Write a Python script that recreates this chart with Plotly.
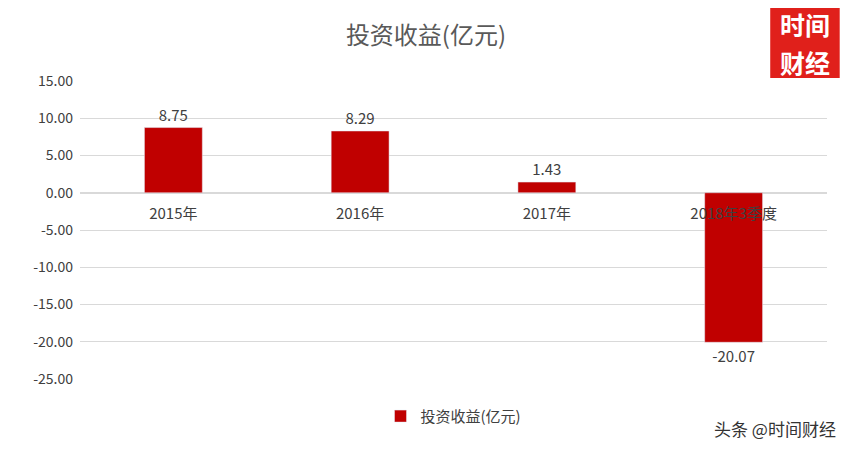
import plotly.graph_objects as go

categories = ['2015年', '2016年', '2017年', '2018年3季度']
values = [8.75, 8.29, 1.43, -20.07]
ytick_vals = [15, 10, 5, 0, -5, -10, -15, -20, -25]
ytick_text = ['%.2f' % v for v in ytick_vals]

red = '#C00000'
font = 'Noto Sans CJK SC'

fig = go.Figure()
fig.add_trace(go.Bar(
    x=categories, y=values, name='投资收益(亿元)',
    marker=dict(color=red), width=0.31,
    text=['%.2f' % v for v in values], textposition='outside',
    textfont=dict(size=15, color='#404040', family=font),
    cliponaxis=False,
))

fig.update_layout(
    width=852, height=452,
    paper_bgcolor='white', plot_bgcolor='white',
    margin=dict(l=80, r=25, t=81, b=73, autoexpand=False),
    title=dict(text='投资收益(亿元)', x=0.5, xanchor='center', y=0.94,
               font=dict(size=24, color='#595959', family=font)),
    font=dict(family=font, color='#595959'),
    xaxis=dict(anchor='free', position=0.625, showline=False, ticks='', automargin=False,
               ticklabelstandoff=10,
               tickfont=dict(size=15, color='#404040'), showgrid=False),
    yaxis=dict(range=[-25, 15], tickvals=ytick_vals, ticktext=ytick_text, automargin=False,
               showgrid=True, gridcolor='#D9D9D9', zeroline=True, ticklabelstandoff=6,
               zerolinecolor='#D9D9D9', tickfont=dict(size=14, color='#404040')),
    showlegend=True,
    legend=dict(orientation='h', x=0.5, xanchor='center', y=-0.07, yanchor='top',
                font=dict(size=15, color='#404040')),
    bargap=0.5,
)

# logo and watermark
fig.add_shape(type='rect', xref='paper', yref='paper', x0=0.924, x1=1.017, y0=1.01, y1=1.245,
              fillcolor='#E0201B', line=dict(width=0), layer='below')
fig.add_annotation(text='<b>时间</b>', xref='paper', yref='paper', x=0.9705, y=1.19,
                   yanchor='middle', xanchor='center',
                   showarrow=False, font=dict(size=25, color='white', family=font))
fig.add_annotation(text='<b>财经</b>', xref='paper', yref='paper', x=0.9705, y=1.065,
                   yanchor='middle', xanchor='center',
                   showarrow=False, font=dict(size=25, color='white', family=font))
fig.add_annotation(text='头条 @时间财经', xref='paper', yref='paper', x=1.015, y=-0.165,
                   xanchor='right', yanchor='middle', showarrow=False,
                   font=dict(size=17, color='#333333', family=font))

fig.write_html('out.html', config={'displayModeBar': False},
               post_script="document.body.style.margin='0';")
